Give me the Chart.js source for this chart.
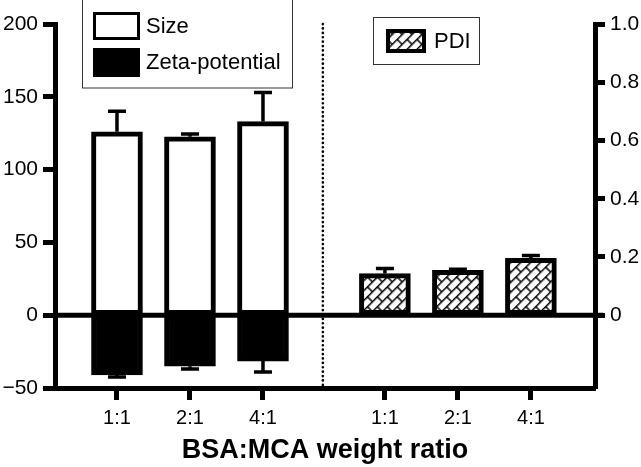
<!DOCTYPE html>
<html>
<head>
<meta charset="utf-8">
<script src="https://cdn.jsdelivr.net/npm/chart.js@4"></script>
<style>
  html, body { margin: 0; padding: 0; background: #fff; }
  #wrap { width: 641px; height: 467px; position: relative; }
</style>
</head>
<body>
<div id="wrap"><canvas id="myChart" width="641" height="467"></canvas></div>
<script>
const categories = ['1:1', '2:1', '4:1'];
const sizeValues = [126, 122.5, 133];
const sizeErr = [14, 2, 20];
const zetaValues = [-41, -35, -31.5];
const zetaErr = [1.5, 2, 7.5];
const pdiValues = [0.143, 0.154, 0.195];
const pdiErr = [0.017, 0.004, 0.01];
const leftLabels = ['Size', 'Zeta-potential'];
const rightLabels = ['PDI'];
const xTitle = 'BSA:MCA weight ratio';

// second group sits a bit further right than a whole category
const groupShift = 3.67;
const sepAt = 2.82;

const FONT = 'Liberation Sans, Arial, sans-serif';

// brick hatch, turned 45 degrees
function makeHatch() {
  const c = document.createElement('canvas');
  c.width = 14; c.height = 14;
  const g = c.getContext('2d');
  g.fillStyle = '#fff';
  g.fillRect(0, 0, 14, 14);
  g.strokeStyle = '#000';
  g.lineWidth = 1.5;
  g.beginPath();
  g.moveTo(0, 0.8); g.lineTo(14, 0.8);
  g.moveTo(0, 7.8); g.lineTo(14, 7.8);
  g.moveTo(1, 0.8); g.lineTo(1, 7.8);
  g.moveTo(8, 7.8); g.lineTo(8, 14.8);
  g.stroke();
  const p = g.createPattern(c, 'repeat');
  p.setTransform(new DOMMatrix().rotate(-45));
  return p;
}
const hatch = makeHatch();

const leftX = categories.map((c, i) => i);
const rightX = categories.map((c, i) => i + groupShift);
const tickPos = leftX.concat(rightX);
const tickText = categories.concat(categories);

const data = {
  datasets: [{
    label: leftLabels[0],
    data: sizeValues.map((v, i) => ({ x: leftX[i], y: v })),
    err: sizeErr,
    yAxisID: 'y',
    backgroundColor: '#fff',
    borderColor: '#000',
    borderWidth: 5,
    borderSkipped: false
  }, {
    label: leftLabels[1],
    data: zetaValues.map((v, i) => ({ x: leftX[i], y: v })),
    err: zetaErr,
    yAxisID: 'y',
    backgroundColor: '#000',
    borderColor: '#000',
    borderWidth: 5,
    borderSkipped: false
  }, {
    label: rightLabels[0],
    data: pdiValues.map((v, i) => ({ x: rightX[i], y: v })),
    err: pdiErr,
    yAxisID: 'y2',
    backgroundColor: hatch,
    borderColor: '#000',
    borderWidth: 5,
    borderSkipped: false
  }]
};

const extras = {
  id: 'extras',
  afterDatasetsDraw(chart) {
    const ctx = chart.ctx;
    const area = chart.chartArea;
    const x = chart.scales.x;
    const y = chart.scales.y;
    ctx.save();
    // error bars
    chart.data.datasets.forEach((ds, di) => {
      const meta = chart.getDatasetMeta(di);
      const sc = chart.scales[ds.yAxisID];
      meta.data.forEach((el, i) => {
        const v = ds.data[i].y;
        const end = sc.getPixelForValue(v + Math.sign(v) * ds.err[i]);
        ctx.strokeStyle = '#000';
        ctx.lineWidth = 3.5;
        ctx.beginPath();
        ctx.moveTo(el.x, el.y);
        ctx.lineTo(el.x, end);
        ctx.moveTo(el.x - 9, end);
        ctx.lineTo(el.x + 9, end);
        ctx.stroke();
      });
    });
    // zero line
    const y0 = y.getPixelForValue(0);
    ctx.lineWidth = 5;
    ctx.beginPath();
    ctx.moveTo(area.left, y0);
    ctx.lineTo(area.right + 8, y0);
    ctx.stroke();
    // dotted separator
    const sx = x.getPixelForValue(sepAt);
    ctx.lineWidth = 2.6;
    ctx.lineCap = 'round';
    ctx.setLineDash([0.1, 4.3]);
    ctx.beginPath();
    ctx.moveTo(sx, area.top);
    ctx.lineTo(sx, area.bottom);
    ctx.stroke();
    ctx.setLineDash([]);
    ctx.lineCap = 'butt';

    // legends
    ctx.font = '22px ' + FONT;
    ctx.textBaseline = 'middle';
    ctx.lineWidth = 1;
    ctx.strokeStyle = '#333';
    ctx.strokeRect(82.5, -5, 210, 93);
    ctx.fillStyle = '#fff';
    ctx.strokeStyle = '#000';
    ctx.lineWidth = 3;
    ctx.fillRect(94.5, 13.5, 44, 25);
    ctx.strokeRect(94.5, 13.5, 44, 25);
    ctx.fillStyle = '#000';
    ctx.fillRect(93, 48, 47, 29);
    ctx.fillText(leftLabels[0], 146, 27);
    ctx.fillText(leftLabels[1], 146, 63);

    ctx.lineWidth = 1;
    ctx.strokeStyle = '#333';
    ctx.strokeRect(373.5, 17.5, 106, 47);
    ctx.fillStyle = '#000';
    ctx.fillRect(386, 29, 40, 24);
    ctx.fillStyle = hatch;
    ctx.fillRect(390, 33, 32, 16);
    ctx.fillStyle = '#000';
    ctx.fillText(rightLabels[0], 434, 42);
    ctx.restore();
  }
};

const axisGrid = {
  display: true,
  offset: false,
  drawOnChartArea: false,
  drawTicks: true,
  tickLength: 12,
  tickWidth: 5,
  tickColor: '#000'
};

const config = {
  type: 'bar',
  data,
  options: {
    responsive: false,
    animation: false,
    grouped: false,
    barThickness: 51,
    layout: { padding: { top: 24, left: 0, right: 0, bottom: 0 } },
    plugins: { legend: { display: false }, tooltip: { enabled: false } },
    scales: {
      x: {
        type: 'linear',
        offset: false,
        min: -0.849,
        max: 6.548,
        grid: axisGrid,
        border: { display: true, color: '#000', width: 5 },
        ticks: {
          color: '#000',
          font: { family: FONT, size: 20 },
          padding: 6,
          autoSkip: false,
          maxRotation: 0,
          callback: (v, i) => tickText[i]
        },
        afterBuildTicks: s => { s.ticks = tickPos.map(v => ({ value: v })); },
        afterFit: s => { s.height = 79; },
        title: {
          display: true,
          text: xTitle,
          color: '#000',
          font: { family: FONT, size: 27, weight: 'bold' },
          padding: { top: 0, bottom: 0 }
        }
      },
      y: {
        position: 'left',
        min: -50,
        max: 200,
        grid: axisGrid,
        border: { display: true, color: '#000', width: 5 },
        ticks: {
          stepSize: 50,
          color: '#000',
          padding: 5,
          font: { family: FONT, size: 21 },
          callback: v => String(v).replace('-', '\u2212')
        },
        afterFit: s => { s.width = 55; }
      },
      y2: {
        position: 'right',
        min: -0.25,
        max: 1.0,
        grid: Object.assign({}, axisGrid, { tickLength: 10 }),
        border: { display: true, color: '#000', width: 5 },
        ticks: {
          color: '#000',
          padding: 5,
          font: { family: FONT, size: 21 },
          callback: v => v === 0 ? '0' : v.toFixed(1)
        },
        afterBuildTicks: s => {
          s.ticks = [0, 0.2, 0.4, 0.6, 0.8, 1.0].map(v => ({ value: v }));
        },
        afterFit: s => { s.width = 46; }
      }
    }
  },
  plugins: [extras]
};

let myChart = new Chart(document.getElementById('myChart'), config);
</script>
</body>
</html>
